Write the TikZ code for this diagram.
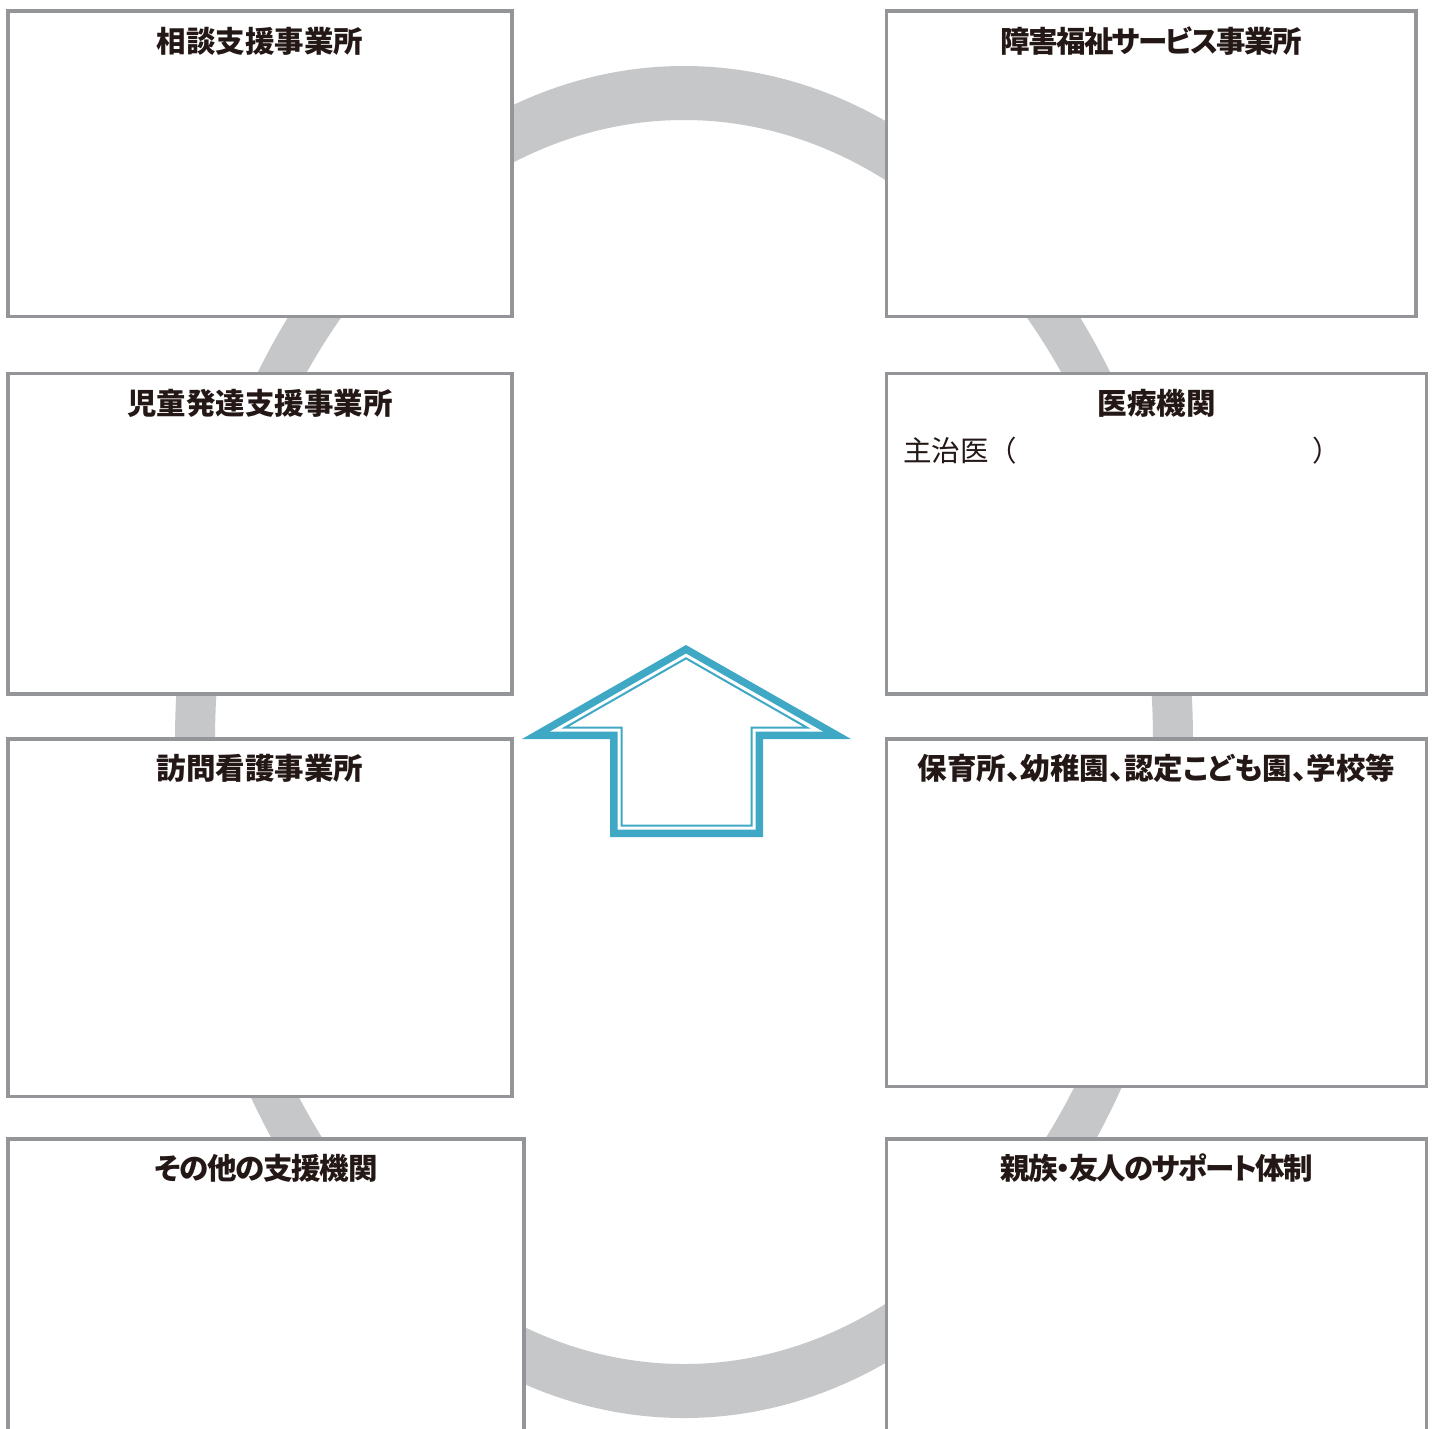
\documentclass[tikz,border=0pt]{standalone}
\usepackage{fontspec}
\newfontfamily\jpt{Noto Sans CJK JP}[RawFeature=+palt]
\newfontfamily\jp{Noto Sans CJK JP}
\usetikzlibrary{calc}
\definecolor{ringgray}{HTML}{C6C7C9}
\definecolor{boxgray}{HTML}{949599}
\definecolor{arrowteal}{HTML}{3FA9C5}
\definecolor{ink}{HTML}{231815}
\tikzset{
  box/.style={draw=boxgray, line width=3.5pt, fill=white, rectangle, anchor=north west, inner sep=0pt, outer sep=0pt},
  title/.style={font=\jpt\bfseries\fontsize{29.5}{32}\selectfont, text=ink, inner sep=0pt, anchor=center},
  body/.style={font=\jp\fontsize{28.5}{32}\selectfont, text=ink, inner sep=0pt, anchor=west}
}
\begin{document}
\begin{tikzpicture}[x=1pt,y=-1pt]
\useasboundingbox (0,0) rectangle (1434,1428);
\clip (0,0) rectangle (1434,1428);
\fill[white] (0,0) rectangle (1434,1428);
% ring
\fill[ringgray, even odd rule] (684,742) ellipse [x radius=509pt, y radius=676pt]
  (684,742) ellipse [x radius=469pt, y radius=622pt];
% boxes
\node[box, minimum width=504pt, minimum height=305.5pt] (b1) at (8,11) {};
\node[box, minimum width=529.5pt, minimum height=305.5pt] (b2) at (886.5,11) {};
\node[box, minimum width=504pt, minimum height=320.5pt] (b3) at (8,373.5) {};
\node[box, minimum width=540pt, minimum height=320.5pt] (b4) at (886.5,373.5) {};
\node[box, minimum width=504pt, minimum height=357.5pt] (b5) at (8,739) {};
\node[box, minimum width=540pt, minimum height=347.5pt] (b6) at (886.5,739) {};
\node[box, minimum width=516pt, minimum height=320pt] (b7) at (8,1139) {};
\node[box, minimum width=540pt, minimum height=320pt] (b8) at (886.5,1139) {};
% titles
\node[title] (t1) at ($(b1.north)+(0,30)$) {相談支援事業所};
\node[title] (t2) at ($(b2.north)+(0,30)$) {\addfontfeature{LetterSpace=-5.5}障害福祉サービス事業所};
\node[title] (t3) at ($(b3.north)+(0,29.5)$) {児童発達支援事業所};
\node[title] (t4) at ($(b4.north)+(0,29.5)$) {医療機関};
\node[title] (t5) at ($(b5.north)+(0,29)$) {訪問看護事業所};
\node[title] (t6) at ($(b6.north)+(0,29)$) {保育所、幼稚園、認定こども園、学校等};
\node[title] (t7) at ($(b7.north)+(0,29)$) {\addfontfeature{LetterSpace=-4.3}その他の支援機関};
\node[title] (t8) at ($(b8.north)+(0,29)$) {\addfontfeature{LetterSpace=-5.8}親族・友人のサポート体制};
\node[body] (doc) at (903,451) {主治医（\hspace{295pt}）};
% arrow
\fill[arrowteal] (686,645) -- (522,739) -- (610,739) -- (610,837) -- (763,837) -- (763,739) -- (851,739) -- cycle;
\fill[white] (686,653.6) -- (550.2,731.5) -- (617.5,731.5) -- (617.5,829.5) -- (755.5,829.5) -- (755.5,731.5) -- (822.8,731.5) -- cycle;
\draw[arrowteal, line width=2pt, line join=miter] (686,658.3) -- (565.2,727.5) -- (621.5,727.5) -- (621.5,825.5) -- (751.5,825.5) -- (751.5,727.5) -- (806.8,727.5) -- cycle;
\end{tikzpicture}
\end{document}
